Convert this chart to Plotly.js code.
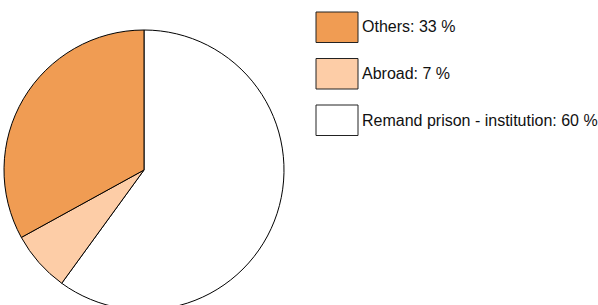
<!DOCTYPE html>
<html><head><meta charset="utf-8">
<script src="https://cdn.plot.ly/plotly-3.0.1.min.js"></script>
<style>html,body{margin:0;padding:0;overflow:hidden;background:#fff;}#chart{width:598px;height:340px;}</style>
</head><body><div id="chart"></div>
<script>
const labels = ["Others", "Abroad", "Remand prison - institution"];
const values = [33, 7, 60];
const colors = ["#F09C53", "#FDCDA7", "#FFFFFF"];

const W = 598, H = 340;
const px = x => x / W;
const py = y => 1 - y / H;

const shapes = [], annotations = [];
labels.forEach((lab, i) => {
  const top = 12 + i * 46.5;
  shapes.push({type: "rect", xref: "paper", yref: "paper",
    x0: px(316), x1: px(358), y0: py(top), y1: py(top + 30.5),
    fillcolor: colors[i], line: {color: "#222", width: 1}});
  annotations.push({xref: "paper", yref: "paper", x: px(360), y: py(top + 15),
    xanchor: "left", yanchor: "middle", showarrow: false,
    text: lab + ": " + values[i] + " %",
    font: {family: "Liberation Sans, Arial, sans-serif", size: 16, color: "#111"}});
});

// Slices run anticlockwise from 12 o'clock in list order; drawn clockwise from the reversed list.
Plotly.newPlot("chart", [{
  type: "pie", labels: labels.slice().reverse(), values: values.slice().reverse(), sort: false,
  direction: "clockwise", rotation: 0,
  marker: {colors: colors.slice().reverse(), line: {color: "#000", width: 1}},
  textinfo: "none", hoverinfo: "label+percent",
  domain: {x: [px(4), px(284)], y: [py(310), py(30)]}
}], {
  width: W, height: H, margin: {l: 0, r: 0, t: 0, b: 0},
  showlegend: false, paper_bgcolor: "#fff",
  shapes: shapes, annotations: annotations
}, {displayModeBar: false, staticPlot: true});
</script></body></html>
